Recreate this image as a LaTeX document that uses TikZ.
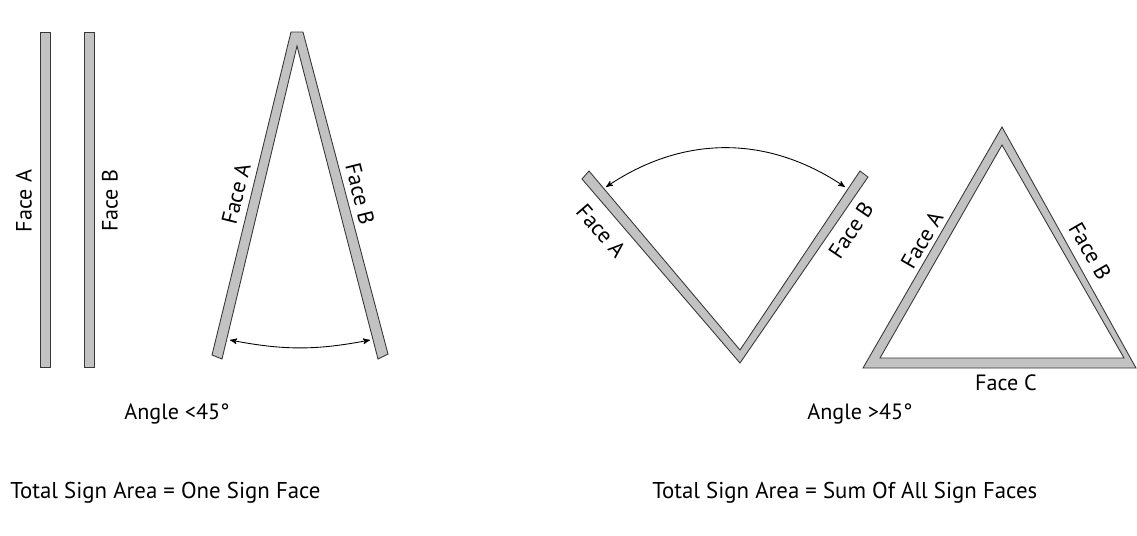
\documentclass[tikz,border=0pt]{standalone}
\usepackage{fontspec}
\setmainfont{PT Sans}
\usetikzlibrary{arrows}
\definecolor{facegray}{RGB}{194,194,194}
\definecolor{edgegray}{RGB}{55,55,55}

\begin{document}
\begin{tikzpicture}[x=0.02cm,y=-0.02cm,>=stealth',
        panel/.style={fill=facegray,draw=edgegray,line width=0.5pt},
        lbl/.style={font=\fontsize{12.6}{14}\selectfont,inner sep=1pt},
        note/.style={font=\fontsize{13}{15}\selectfont,inner sep=0pt},
        sweep/.style={<->,line width=0.5pt}]
    \useasboundingbox (0,0) rectangle (1137,535);

    % two faces back to back
    \draw[panel] (40,32) rectangle (50,367);
    \draw[panel] (84,32) rectangle (94,367);
    \node[lbl, rotate=90] (flatA) at (24,201) {Face A};
    \node[lbl, rotate=90] (flatB) at (110,201) {Face B};

    % a-frame
    \draw[panel] (291,32) -- (303,32) -- (388,354) -- (378,359) -- (297,46)
        -- (222,359) -- (212,355) -- cycle;
    \node[lbl, rotate=76] (aA) at (236,194) {Face A};
    \node[lbl, rotate=-76] (aB) at (360,194) {Face B};
    \coordinate (aL) at (230,340);
    \coordinate (aR) at (370,340);
    \draw[sweep] (aL) to[bend right=11] (aR);
    \node[lbl] (small) at (177,414) {Angle <45°};

    % v-shape
    \draw[panel] (582,179) -- (589,171) -- (740,350) -- (860,171) -- (868,177)
        -- (740,363) -- cycle;
    \node[lbl, rotate=-49] (vA) at (601,231) {Face A};
    \node[lbl, rotate=56] (vB) at (851,230) {Face B};
    \coordinate (vL) at (606,187);
    \coordinate (vR) at (845,187);
    \draw[sweep] (vL) to[bend left=34] (vR);

    % triangle
    \draw[panel, even odd rule] (1002,127) -- (1136,368) -- (863,368) -- cycle
        (1002,145) -- (1124,358) -- (880,358) -- cycle;
    \node[lbl, rotate=60] (tA) at (922,240) {Face A};
    \node[lbl, rotate=-60] (tB) at (1090,251) {Face B};
    \node[lbl] (tC) at (1006,383) {Face C};
    \node[lbl] (large) at (860,414) {Angle >45°};

    \node[note, anchor=west] (sumL) at (10,493) {Total Sign Area = One Sign Face};
    \node[note, anchor=west] (sumR) at (652,493) {Total Sign Area = Sum Of All Sign Faces};
\end{tikzpicture}
\end{document}
